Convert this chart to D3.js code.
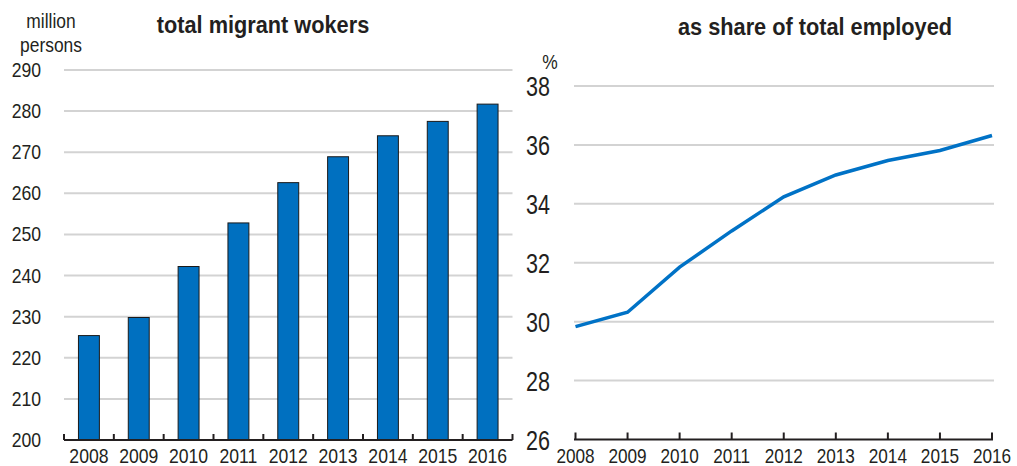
<!DOCTYPE html>
<html>
<head>
<meta charset="utf-8">
<script src="https://cdn.jsdelivr.net/npm/d3@7"></script>
<style>
  body { margin: 0; background: #fff; }
  text { font-family: "Liberation Sans", Arial, sans-serif; fill: #231f20; }
  .title { font-weight: bold; font-size: 23px; }
</style>
</head>
<body>
<div id="chart"></div>
<script>
// Data
var years = ["2008", "2009", "2010", "2011", "2012", "2013", "2014", "2015", "2016"];
var migrantWorkers = [225.4, 229.8, 242.2, 252.8, 262.6, 268.9, 274.0, 277.5, 281.7];
var shareEmployed = [29.83, 30.32, 31.85, 33.08, 34.24, 34.98, 35.47, 35.81, 36.32];
var leftTicks = [200, 210, 220, 230, 240, 250, 260, 270, 280, 290];
var rightTicks = [26, 28, 30, 32, 34, 36, 38];

var svgWidth = 1017;
var svgHeight = 466;
var barColor = "#0070c0";
var gridColor = "#d3d3d3";

var svg = d3.select("#chart")
    .append("svg")
    .attr("width", svgWidth)
    .attr("height", svgHeight);

// narrow look: no condensed font installed, so squeeze horizontally
function squeeze(sx) {
    return function(sel) {
        sel.attr("transform", function() {
            var t = d3.select(this);
            return "translate(" + t.attr("x") + "," + t.attr("y") + ") scale(" + sx + ",1)";
        }).attr("x", 0).attr("y", 0);
    };
}

// ---------- Left panel: bars ----------
var xBand = d3.scaleBand()
    .domain(years)
    .range([64, 512.5])
    .paddingInner(0.58)
    .paddingOuter(0.29);

var yLeft = d3.scaleLinear()
    .domain([200, 290])
    .range([440, 70]);

// gridlines
svg.append("g")
    .selectAll("line")
    .data(leftTicks.slice(1))
    .enter()
    .append("line")
    .attr("x1", 64)
    .attr("x2", 512.5)
    .attr("y1", d => yLeft(d))
    .attr("y2", d => yLeft(d))
    .attr("stroke", gridColor)
    .attr("stroke-width", 2);

// y tick labels
svg.append("g")
    .selectAll("text")
    .data(leftTicks)
    .enter()
    .append("text")
    .attr("x", 41)
    .attr("y", d => yLeft(d) + 7)
    .attr("text-anchor", "end")
    .style("font-size", "20px")
    .text(d => d)
    .call(squeeze(0.88));

// bars
svg.append("g")
    .selectAll("rect")
    .data(migrantWorkers)
    .enter()
    .append("rect")
    .attr("x", (d, i) => xBand(years[i]))
    .attr("y", d => yLeft(d))
    .attr("width", xBand.bandwidth())
    .attr("height", d => yLeft(200) - yLeft(d))
    .attr("fill", barColor)
    .attr("stroke", "#1a1a1a")
    .attr("stroke-width", 1);

// x axis (ticks between bands, pointing up)
var leftAxis = svg.append("g")
    .attr("transform", "translate(0, 440)");
var bandEdges = d3.range(years.length + 1).map(i => 64 + i * (448.5 / years.length));
leftAxis.append("line")
    .attr("x1", 64).attr("x2", 512.5)
    .attr("stroke", "#231f20").attr("stroke-width", 2);
leftAxis.selectAll(".tick")
    .data(bandEdges)
    .enter()
    .append("line")
    .attr("x1", d => d).attr("x2", d => d)
    .attr("y1", 0).attr("y2", -6)
    .attr("stroke", "#231f20").attr("stroke-width", 2);
leftAxis.selectAll("text")
    .data(years)
    .enter()
    .append("text")
    .attr("x", d => xBand(d) + xBand.bandwidth() / 2)
    .attr("y", 23)
    .attr("text-anchor", "middle")
    .style("font-size", "20px")
    .text(d => d)
    .call(squeeze(0.88));

// unit + title
svg.append("text").attr("x", 51).attr("y", 28).attr("text-anchor", "middle")
    .style("font-size", "20px").text("million").call(squeeze(0.87));
svg.append("text").attr("x", 51).attr("y", 52).attr("text-anchor", "middle")
    .style("font-size", "20px").text("persons").call(squeeze(0.87));
svg.append("text").attr("class", "title").attr("x", 263).attr("y", 33)
    .attr("text-anchor", "middle").text("total migrant wokers").call(squeeze(0.945));

// ---------- Right panel: line ----------
var xPoint = d3.scalePoint()
    .domain(years)
    .range([575.5, 992]);

var yRight = d3.scaleLinear()
    .domain([26, 38])
    .range([439.5, 86]);

svg.append("g")
    .selectAll("line")
    .data(rightTicks.slice(1))
    .enter()
    .append("line")
    .attr("x1", 574)
    .attr("x2", 994)
    .attr("y1", d => yRight(d))
    .attr("y2", d => yRight(d))
    .attr("stroke", gridColor)
    .attr("stroke-width", 2);

svg.append("g")
    .selectAll("text")
    .data(rightTicks)
    .enter()
    .append("text")
    .attr("x", 550)
    .attr("y", d => yRight(d) + 10)
    .attr("text-anchor", "end")
    .style("font-size", "28px")
    .text(d => d)
    .call(squeeze(0.77));

var rightAxis = svg.append("g")
    .attr("transform", "translate(0, 439.5)");
rightAxis.append("line")
    .attr("x1", 574).attr("x2", 993)
    .attr("stroke", "#231f20").attr("stroke-width", 2);
rightAxis.selectAll(".tick")
    .data(years)
    .enter()
    .append("line")
    .attr("x1", d => xPoint(d)).attr("x2", d => xPoint(d))
    .attr("y1", 0).attr("y2", -7)
    .attr("stroke", "#231f20").attr("stroke-width", 2);
rightAxis.selectAll("text")
    .data(years)
    .enter()
    .append("text")
    .attr("x", d => xPoint(d))
    .attr("y", 23)
    .attr("text-anchor", "middle")
    .style("font-size", "20px")
    .text(d => d)
    .call(squeeze(0.86));

var line = d3.line()
    .x((d, i) => xPoint(years[i]))
    .y(d => yRight(d));

svg.append("path")
    .datum(shareEmployed)
    .attr("d", line)
    .attr("fill", "none")
    .attr("stroke", "#0072c6")
    .attr("stroke-width", 3.5);

svg.append("text").attr("x", 550).attr("y", 69).attr("text-anchor", "middle")
    .style("font-size", "20px").text("%").call(squeeze(0.87));
svg.append("text").attr("class", "title").attr("x", 815).attr("y", 35)
    .attr("text-anchor", "middle").text("as share of total employed").call(squeeze(0.945));
</script>
</body>
</html>
